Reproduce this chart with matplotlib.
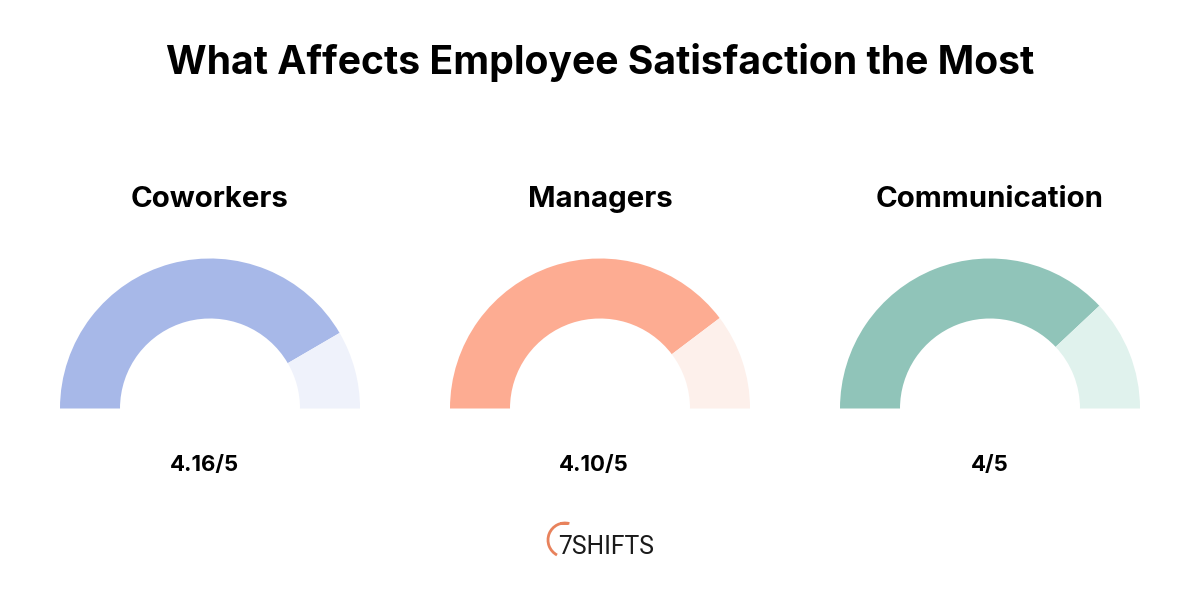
"""Gauge panels: what affects employee satisfaction the most."""
import matplotlib
matplotlib.use("Agg")
import matplotlib.pyplot as plt
from matplotlib.patches import Arc, Rectangle, Wedge

plt.rcParams["font.family"] = ["Inter", "DejaVu Sans"]

TITLE = "What Affects Employee Satisfaction the Most"
CATEGORIES = ["Coworkers", "Managers", "Communication"]
SCORE_LABELS = ["4.16/5", "4.10/5", "4/5"]
# filled share of each half ring (not quite the printed scores)
FILLED_SHARE = [0.832, 0.794, 0.760]
FILL_COLORS = ["#a7b8e8", "#fdac92", "#90c4b9"]
REST_COLORS = ["#eff2fb", "#fdf0eb", "#e0f2ed"]

fig = plt.figure(figsize=(12, 6), dpi=100)
ax = fig.add_axes([0, 0, 1, 1])
ax.set_xlim(0, 1200)
ax.set_ylim(600, 0)
ax.axis("off")

ax.text(600, 63, TITLE, ha="center", va="center", fontsize=28.2,
        fontweight="bold", color="black")

centers = [210, 600, 990]
label_x = [204, 594, 990]
base_y = 408.5
for i, cx in enumerate(centers):
    # y axis is flipped, so angles run clockwise from the left end at 180
    split = 180 + 180 * FILLED_SHARE[i]
    ax.add_patch(Wedge((cx, base_y), 150, 180, split, width=60,
                       facecolor=FILL_COLORS[i], edgecolor="none"))
    ax.add_patch(Wedge((cx, base_y), 150, split, 360, width=60,
                       facecolor=REST_COLORS[i], edgecolor="none"))
    ax.text(cx, 199.5, CATEGORIES[i], ha="center", va="center", fontsize=21.2,
            fontweight="bold", color="black")
    ax.text(label_x[i], 465, SCORE_LABELS[i], ha="center", va="center",
            fontsize=16, fontweight="bold", color="black")

# logo
ax.add_patch(Arc((565, 540), 34, 34, theta1=118, theta2=285, color="#e8825c", lw=2))
ax.add_patch(Rectangle((560, 522), 8, 3, facecolor="#e8825c", edgecolor="none"))
ax.text(558, 547, "7SHIFTS", ha="left", va="center", fontsize=17.7, color="#1a1a1a",
        family=["Roboto", "DejaVu Sans"])

fig.savefig("out.png", dpi=100)
